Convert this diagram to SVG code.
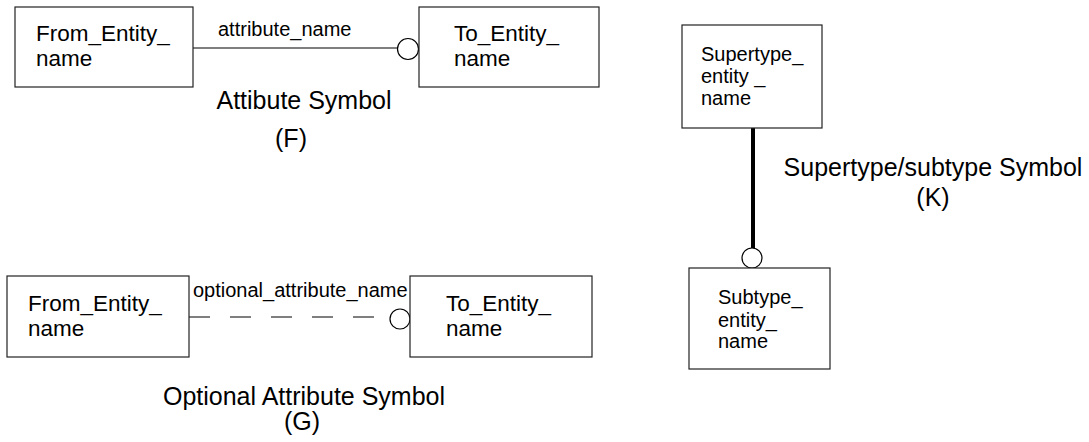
<svg xmlns="http://www.w3.org/2000/svg" width="1089" height="442" viewBox="0 0 1089 442">
<style>
.box{fill:#fff;stroke:#222;stroke-width:1.2}
.t{font-family:"Liberation Sans",Arial,sans-serif;fill:#000}
.n{font-size:22.5px}
.s{font-size:20px}
.lab{font-size:25px}
.conn{stroke:#000;stroke-width:1.2;fill:none}
.circ{fill:#fff;stroke:#000;stroke-width:1.2}
</style>
<rect width="1089" height="442" fill="#fff"/>
<g id="connectors">
<line class="conn" x1="193" y1="48" x2="398" y2="48"/>
<circle class="circ" cx="408" cy="49" r="10.5"/>
<line class="conn" x1="189" y1="317" x2="390" y2="317" stroke-dasharray="21 20"/>
<circle class="circ" cx="400" cy="319" r="10"/>
<line x1="753" y1="128" x2="753" y2="248" stroke="#000" stroke-width="4"/>
<circle class="circ" cx="752" cy="258" r="10"/>
</g>
<g id="from1">
<rect class="box" x="15" y="7" width="178" height="80"/>
<text class="t n" x="36" y="41">From_Entity_</text>
<text class="t n" x="36" y="66">name</text>
</g>
<g id="to1">
<rect class="box" x="419" y="7" width="180" height="80"/>
<text class="t n" x="454" y="41">To_Entity_</text>
<text class="t n" x="454" y="66">name</text>
</g>
<g id="from2">
<rect class="box" x="7" y="276" width="182" height="81"/>
<text class="t n" x="28" y="311">From_Entity_</text>
<text class="t n" x="28" y="336">name</text>
</g>
<g id="to2">
<rect class="box" x="410" y="276" width="182" height="81"/>
<text class="t n" x="446" y="311">To_Entity_</text>
<text class="t n" x="446" y="336">name</text>
</g>
<g id="supertype">
<rect class="box" x="682" y="25" width="140" height="103"/>
<text class="t s" x="701" y="61">Supertype_</text>
<text class="t s" x="701" y="83">entity _</text>
<text class="t s" x="701" y="105">name</text>
</g>
<g id="subtype">
<rect class="box" x="689" y="268" width="141" height="101"/>
<text class="t s" x="718" y="304">Subtype_</text>
<text class="t s" x="718" y="327">entity_</text>
<text class="t s" x="718" y="348">name</text>
</g>
<g id="labels">
<text class="t s" x="218" y="36">attribute_name</text>
<text class="t s" x="193" y="297">optional_attribute_name</text>
<text class="t lab" x="304" y="109" text-anchor="middle">Attibute Symbol</text>
<text class="t lab" x="291" y="147" text-anchor="middle">(F)</text>
<text class="t lab" x="304" y="405" text-anchor="middle">Optional Attribute Symbol</text>
<text class="t lab" x="302" y="430" text-anchor="middle">(G)</text>
<text class="t lab" x="933" y="176" text-anchor="middle">Supertype/subtype Symbol</text>
<text class="t lab" x="933" y="206" text-anchor="middle">(K)</text>
</g>
</svg>
